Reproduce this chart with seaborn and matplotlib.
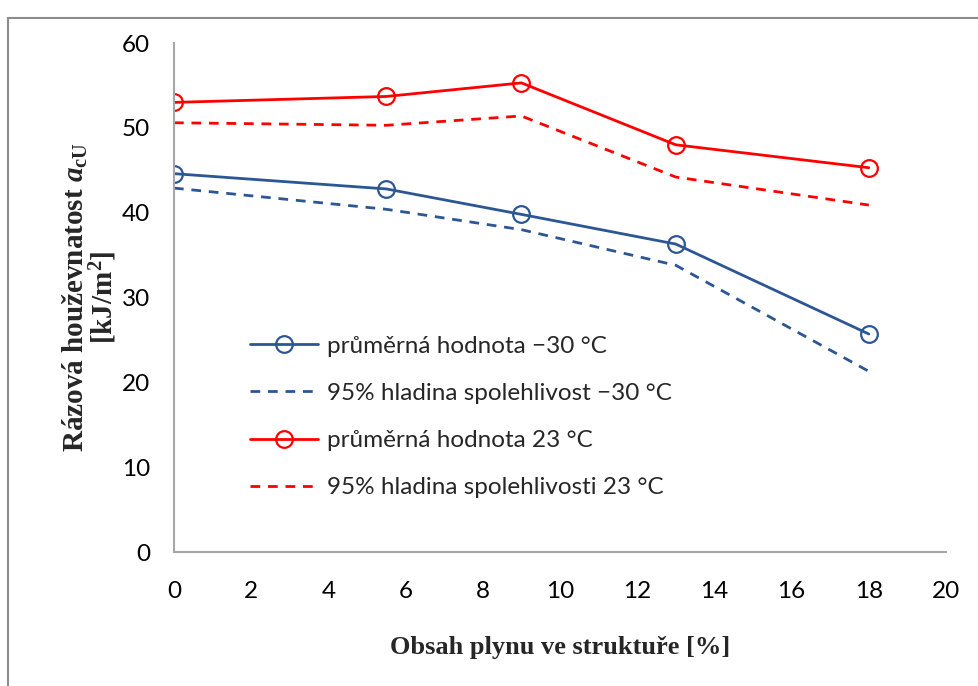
import numpy as np
import pandas as pd
import matplotlib
matplotlib.use("Agg")
import matplotlib.pyplot as plt
import seaborn as sns
from matplotlib.patches import Rectangle

# gas content [%]
obsah = [0, 5.5, 9, 13, 18]

# impact strength [kJ/m2]
prumer_minus30 = [44.6, 42.8, 39.8, 36.3, 25.7]
hladina_minus30 = [42.9, 40.4, 38.0, 33.8, 21.3]
prumer_23 = [53.0, 53.7, 55.3, 48.0, 45.3]
hladina_23 = [50.6, 50.3, 51.4, 44.2, 40.9]

labels = [
    "průměrná hodnota \u221230 °C",
    "95% hladina spolehlivost \u221230 °C",
    "průměrná hodnota 23 °C",
    "95% hladina spolehlivosti 23 °C",
]

x_ticks = list(range(0, 21, 2))
y_ticks = list(range(0, 61, 10))

modra = "#2C5694"
cervena = "#FF0000"
seda = "#A6A6A6"

sns.set_style("white")
plt.rcParams["font.family"] = ["Lato", "DejaVu Sans"]
plt.rcParams["mathtext.fontset"] = "custom"
plt.rcParams["mathtext.rm"] = "Liberation Serif:bold"
plt.rcParams["mathtext.it"] = "Liberation Serif:italic:bold"
plt.rcParams["mathtext.bf"] = "Liberation Serif:bold"

fig = plt.figure(figsize=(9.79, 6.86), dpi=100)
ax = fig.add_axes([0.1777, 0.1953, 0.9663 - 0.1777, 0.9373 - 0.1953])

# gray frame around the chart area
fig.patches.append(Rectangle((0.008, -0.05), 1.2, 0.974 + 0.05, transform=fig.transFigure,
                             fill=False, edgecolor="#8C8C8C", linewidth=1.5))

lw = 2.0
dash = (3.5, 2.8)

sns.lineplot(x=obsah, y=prumer_minus30, ax=ax, color=modra, linewidth=lw, marker="o",
             markersize=12, markerfacecolor="none", markeredgecolor=modra,
             markeredgewidth=1.6, label=labels[0])
sns.lineplot(x=obsah, y=hladina_minus30, ax=ax, color=modra, linewidth=lw,
             dashes=False, label=labels[1]).lines[-1].set_dashes(dash)
sns.lineplot(x=obsah, y=prumer_23, ax=ax, color=cervena, linewidth=lw, marker="o",
             markersize=12, markerfacecolor="none", markeredgecolor=cervena,
             markeredgewidth=1.6, label=labels[2])
sns.lineplot(x=obsah, y=hladina_23, ax=ax, color=cervena, linewidth=lw,
             dashes=False, label=labels[3]).lines[-1].set_dashes(dash)

ax.set_xlim(0, 20)
ax.set_ylim(0, 60)
ax.set_xticks(x_ticks)
ax.set_yticks(y_ticks)
ax.tick_params(axis="both", direction="out", length=6, width=1.2, color=seda,
               labelsize=17.5, labelcolor="black")
ax.tick_params(axis="x", pad=15)
ax.tick_params(axis="y", pad=11)

for s in ["top", "right"]:
    ax.spines[s].set_visible(False)
for s in ["left", "bottom"]:
    ax.spines[s].set_color(seda)
    ax.spines[s].set_linewidth(1.5)

ax.set_xlabel("Obsah plynu ve struktuře [%]", family="Liberation Serif",
              fontweight="bold", fontsize=19, labelpad=24)
ax.set_ylabel("Rázová houževnatost $a_{\\mathrm{cU}}$\n[kJ/m$^2$]", family="Liberation Serif",
              fontweight="bold", fontsize=21, labelpad=2, linespacing=0.92)

leg = ax.legend(loc="upper left", bbox_to_anchor=(0.070, 0.468), frameon=False,
                fontsize=17.5, handlelength=2.8, handletextpad=0.37, labelspacing=1.08)
for h in leg.get_lines():
    if h.get_linestyle() == "--":
        h.set_dashes(dash)

fig.savefig("out.png", dpi=100)
